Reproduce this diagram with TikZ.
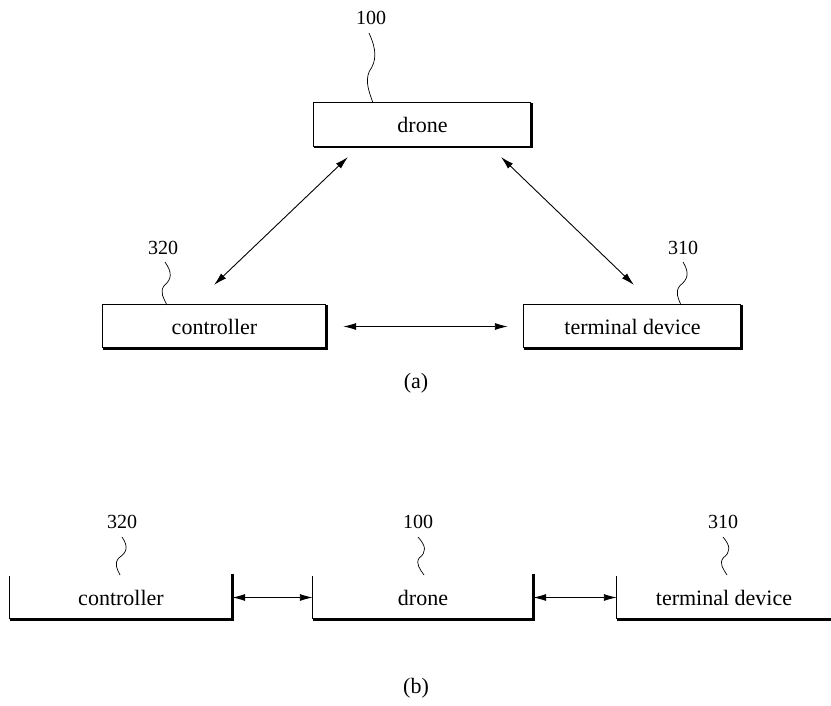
\documentclass[tikz,border=0pt]{standalone}
\usepackage{fontspec}
\setmainfont{Liberation Serif}
\usetikzlibrary{arrows.meta,calc}
\begin{document}
\begin{tikzpicture}[x=1pt,y=-1pt,
  lbl/.style={font=\fontsize{22}{25}\selectfont, inner sep=0pt},
  num/.style={font=\fontsize{20}{23}\selectfont, inner sep=0pt},
  thinl/.style={line width=0.9pt},
  thickl/.style={line width=2.6pt},
  arr/.style={line width=0.9pt, {Latex[length=13pt,width=7pt]}-{Latex[length=13pt,width=7pt]}},
  sq/.style={line width=0.7pt}]
\useasboundingbox (0,0) rectangle (831,706);
\newcommand\mysquig[2]{%
  \draw[sq] (#1) .. controls ($(#1)!0.25!(#2)+(7,0)$) and ($(#1)!0.4!(#2)+(6,0)$) .. ($(#1)!0.55!(#2)+(-2,0)$)
    .. controls ($(#1)!0.7!(#2)+(-7,0)$) and ($(#1)!0.85!(#2)+(-3,0)$) .. (#2);}

% ---------- (a) ----------
\node[lbl, minimum width=217pt, minimum height=44pt] (d) at (422.5,125) {drone};
\node[lbl, minimum width=223pt, minimum height=43pt] (c) at (214.5,326.5) {controller};
\node[lbl, minimum width=217pt, minimum height=43pt] (t) at (632.5,326.5) {terminal device};
\foreach \n in {d,c,t}{
  \draw[thinl] (\n.south west) -- (\n.north west) -- (\n.north east);
  \draw[thickl] (\n.north east) -- (\n.south east) -- (\n.south west);
}
\node[num] (n100) at (371,18) {100};
\node[num] (n320) at (163,248) {320};
\node[num] (n310) at (683,248) {310};
\coordinate (s1) at (369,33);  \coordinate (e1) at (373,103);
\coordinate (s2) at (165,262); \coordinate (e2) at (167,305);
\coordinate (s3) at (683,262); \coordinate (e3) at (681,305);
\mysquig{s1}{e1}
\mysquig{s2}{e2}
\mysquig{s3}{e3}

\coordinate (a1) at (348,157); \coordinate (a2) at (214,285);
\coordinate (b1) at (501,157); \coordinate (b2) at (634,285);
\draw[arr] (a1) -- (a2);
\draw[arr] (b1) -- (b2);
\draw[arr, shorten <=17pt, shorten >=16pt] (c.east) -- (t.west);
\node[lbl] (la) at (416,383) {(a)};

% ---------- (b) ----------
\node[lbl, minimum width=222pt, minimum height=43pt] (c2) at (121,597.5) {controller};
\node[lbl, minimum width=220pt, minimum height=43pt] (d2) at (423,597.5) {drone};
\node[lbl, minimum width=214pt, minimum height=43pt] (t2) at (724,597.5) {terminal device};
\foreach \n in {c2,d2}{
  \draw[thinl] (\n.north west) -- (\n.south west);
  \draw[thickl] ($(\n.north east)+(0,-2)$) -- (\n.south east) -- (\n.south west);
}
\draw[thinl] (t2.north west) -- (t2.south west);
\draw[thickl] (t2.south west) -- (t2.south east);
\draw[arr] (c2.east) -- (d2.west);
\draw[arr] (d2.east) -- (t2.west);

\node[num] (m320) at (122,522) {320};
\node[num] (m100) at (418,522) {100};
\node[num] (m310) at (723,522) {310};
\coordinate (u1) at (122,537); \coordinate (v1) at (120,575);
\coordinate (u2) at (418,537); \coordinate (v2) at (424,575);
\coordinate (u3) at (723,537); \coordinate (v3) at (727,575);
\mysquig{u1}{v1}
\mysquig{u2}{v2}
\mysquig{u3}{v3}
\node[lbl] (lb) at (416,688) {(b)};
\end{tikzpicture}
\end{document}
